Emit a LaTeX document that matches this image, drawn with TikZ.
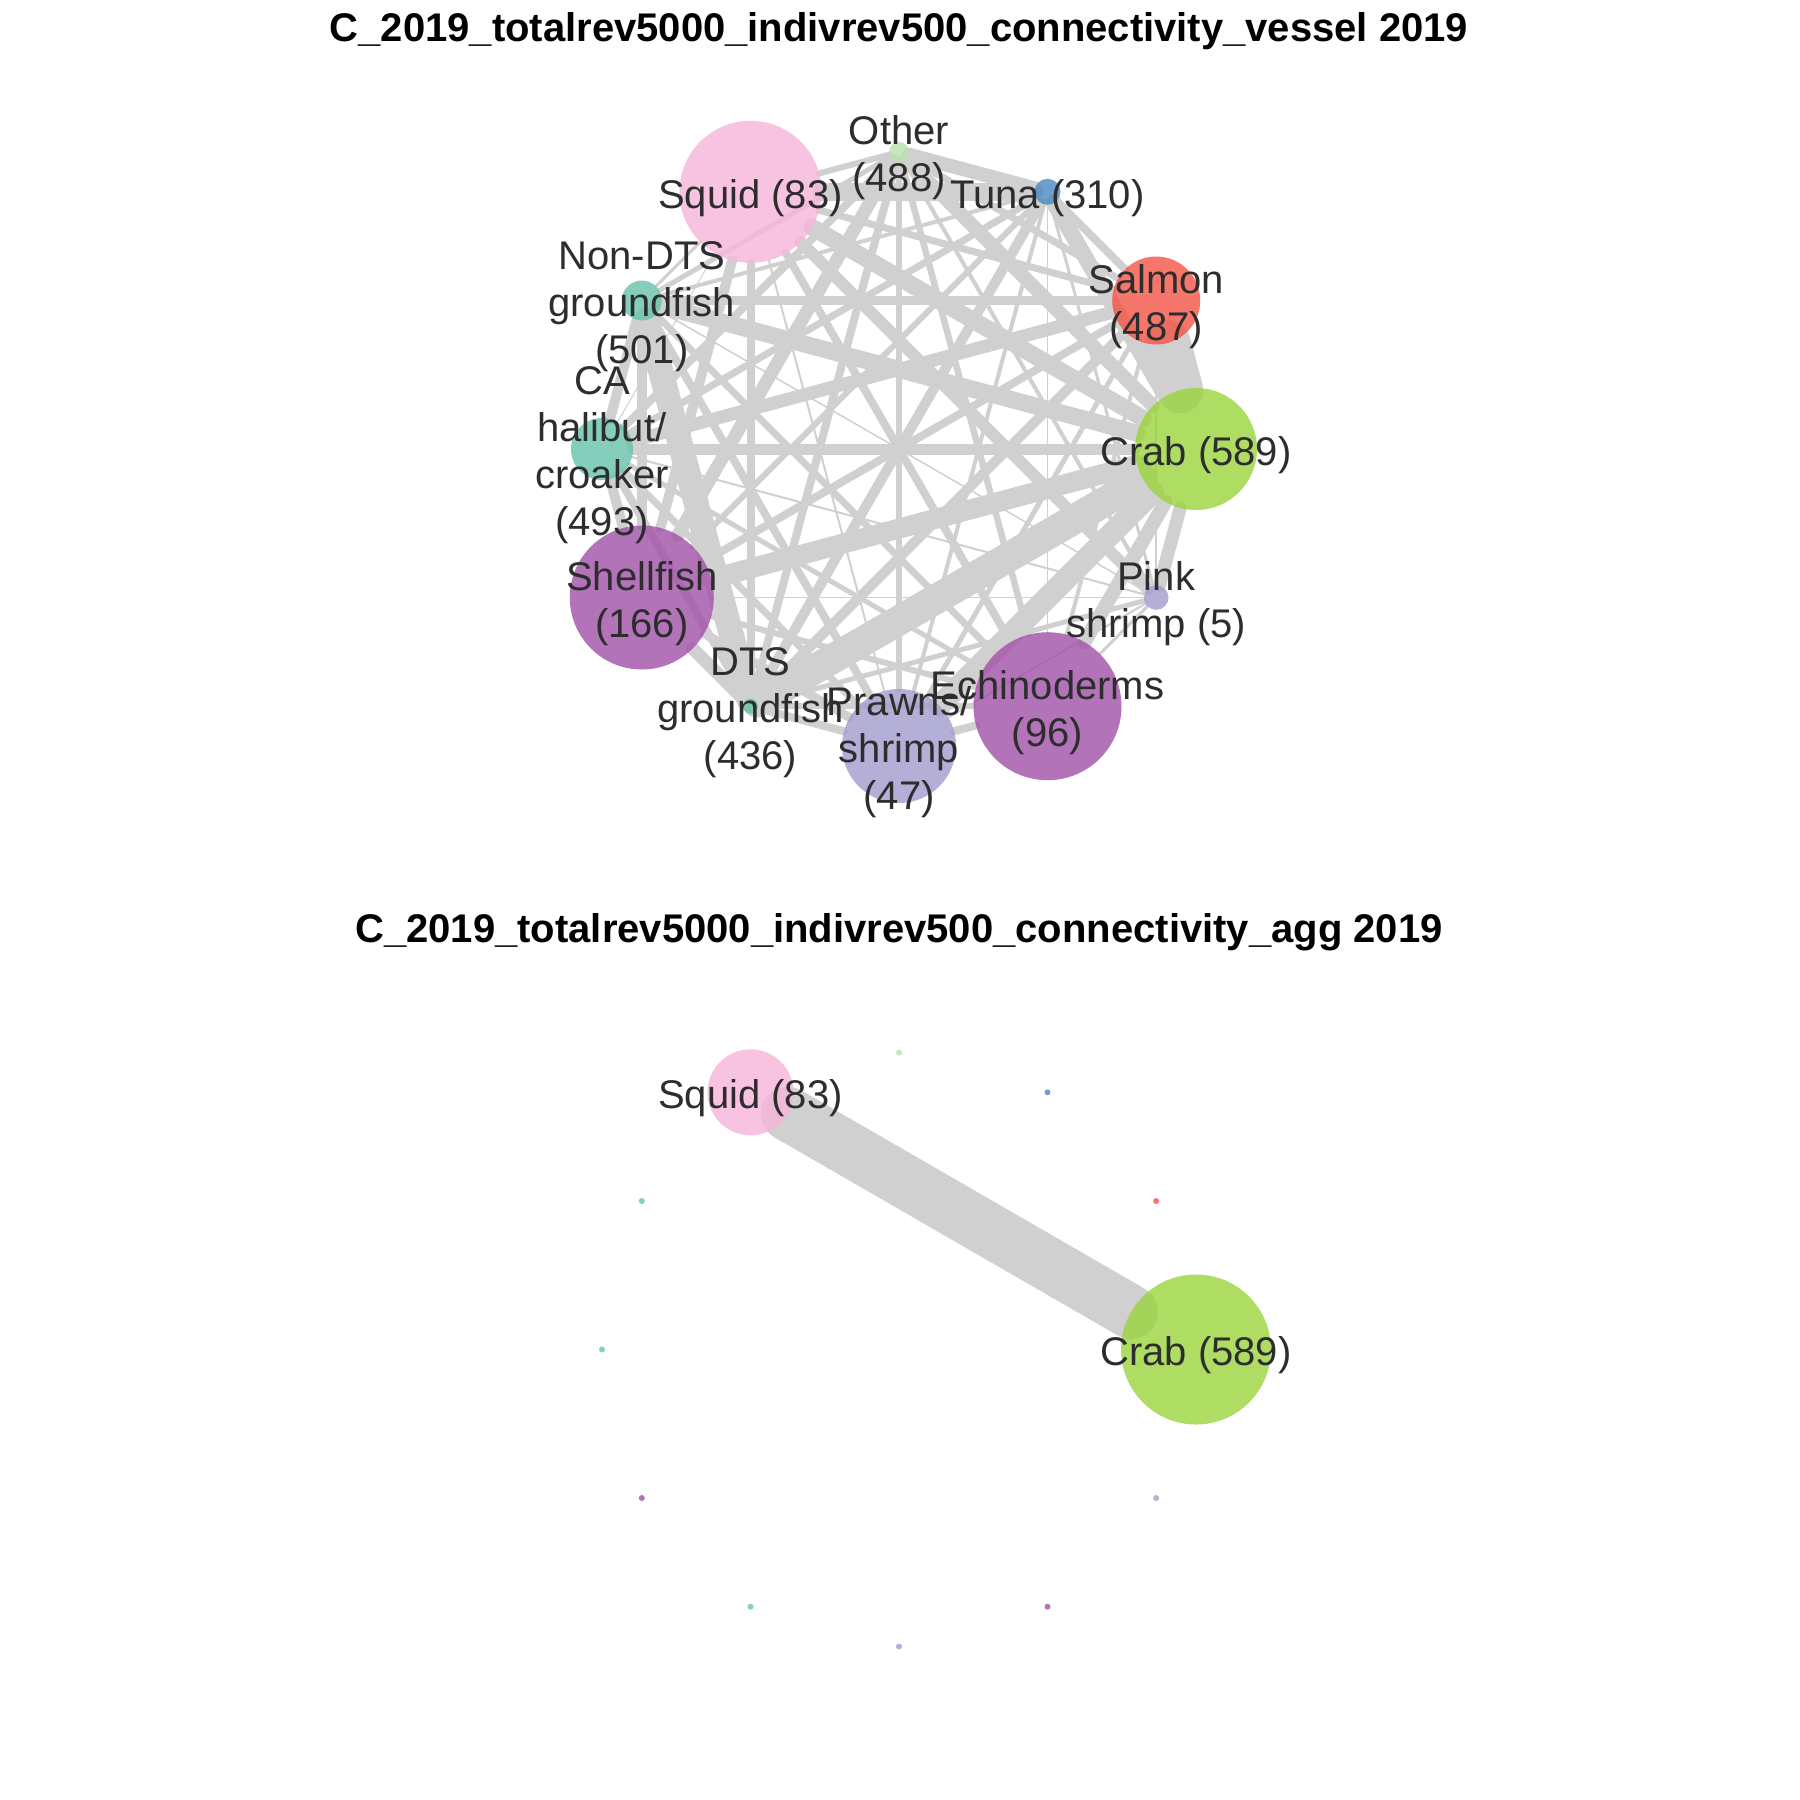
\documentclass[tikz,border=0pt]{standalone}
\usepackage{fontspec}
\setmainfont{Liberation Sans}
\pgfdeclarelayer{bg}
\pgfsetlayers{bg,main}
\definecolor{edgec}{RGB}{208,208,208}
\definecolor{labc}{RGB}{45,45,45}
\definecolor{cSquid}{RGB}{247,181,217}
\definecolor{cCrab}{RGB}{155,212,61}
\definecolor{cSalmon}{RGB}{244,84,71}
\definecolor{cLav}{RGB}{161,156,205}
\definecolor{cPurp}{RGB}{161,80,168}
\definecolor{cTeal}{RGB}{102,194,171}
\definecolor{cTuna}{RGB}{74,136,193}
\definecolor{cOther}{RGB}{186,226,174}
\tikzset{
  vnode/.style={circle, inner sep=0pt, outer sep=0pt, draw=none, fill opacity=0.8},
  lab/.style={align=center, text=labc, inner sep=0pt, yshift=-6pt, font=\fontsize{40}{47}\selectfont},
  ttl/.style={anchor=base, inner sep=0pt, font=\bfseries\fontsize{40}{47}\selectfont},
  edge/.style={draw=edgec, line cap=round},
}
\begin{document}
\begin{tikzpicture}[x=1pt,y=-1pt]
\useasboundingbox (0,0) rectangle (1800,1800);
\begin{pgfonlayer}{bg}
\fill[white] (0,0) rectangle (1800,1800);
\end{pgfonlayer}
% ---------- top network ----------
\def\R{297}
\foreach \n/\ang/\r/\c in {tCrab/0/61/cCrab, tSalmon/30/44/cSalmon, tTuna/60/13/cTuna, tOther/90/10/cOther,
  tSquid/120/71/cSquid, tNon/150/20/cTeal, tCA/180/31/cTeal, tShell/210/72/cPurp, tDTS/240/7.5/cTeal,
  tPrawn/270/57/cLav, tEchi/300/74/cPurp, tPink/330/12.3/cLav}
  \node[vnode, minimum size=2*\r pt, fill=\c] (\n) at ({899+\R*cos(\ang)},{449-\R*sin(\ang)}) {};
\begin{pgfonlayer}{bg}
\foreach \a/\b/\w in {
 tCrab/tSalmon/46, tCrab/tTuna/16, tCrab/tOther/14, tCrab/tSquid/17, tCrab/tNon/17, tCrab/tCA/11,
 tCrab/tShell/20, tCrab/tDTS/30, tCrab/tPrawn/22, tCrab/tEchi/14, tCrab/tPink/13,
 tSalmon/tTuna/8, tSalmon/tOther/7, tSalmon/tSquid/7, tSalmon/tNon/8.5, tSalmon/tCA/13, tSalmon/tShell/8,
 tSalmon/tDTS/10, tSalmon/tPrawn/5, tSalmon/tEchi/4, tSalmon/tPink/1.5,
 tTuna/tOther/14, tTuna/tSquid/18, tTuna/tNon/4, tTuna/tCA/7, tTuna/tShell/6, tTuna/tDTS/10,
 tTuna/tPrawn/4, tTuna/tEchi/1, tTuna/tPink/3,
 tOther/tSquid/6, tOther/tNon/5, tOther/tCA/8, tOther/tShell/13, tOther/tDTS/8, tOther/tPrawn/6.5,
 tOther/tEchi/6.5, tOther/tPink/4,
 tSquid/tNon/3, tSquid/tCA/1, tSquid/tShell/10, tSquid/tDTS/8, tSquid/tPrawn/2, tSquid/tEchi/8, tSquid/tPink/12,
 tNon/tCA/10, tNon/tShell/10, tNon/tDTS/25, tNon/tPrawn/8, tNon/tEchi/7, tNon/tPink/1.5,
 tCA/tShell/10, tCA/tDTS/8, tCA/tPrawn/7, tCA/tEchi/5, tCA/tPink/2,
 tShell/tDTS/13, tShell/tPrawn/9, tShell/tEchi/6, tShell/tPink/1.5,
 tDTS/tPrawn/8, tDTS/tEchi/6, tDTS/tPink/5,
 tPrawn/tEchi/8, tPrawn/tPink/2, tEchi/tPink/3}
  \draw[edge, line width=\w pt] (\a) -- (\b);
\end{pgfonlayer}
\node[lab] (tCrabL) at (tCrab) {Crab (589)};
\node[lab] (tSalmonL) at (tSalmon) {Salmon\\(487)};
\node[lab] (tTunaL) at (tTuna) {Tuna (310)};
\node[lab] (tOtherL) at (tOther) {Other\\(488)};
\node[lab] (tSquidL) at (tSquid) {Squid (83)};
\node[lab] (tNonL) at (tNon) {Non-DTS\\groundfish\\(501)};
\node[lab] (tCAL) at (tCA) {CA\\halibut/\\croaker\\(493)};
\node[lab] (tShellL) at (tShell) {Shellfish\\(166)};
\node[lab] (tDTSL) at (tDTS) {DTS\\groundfish\\(436)};
\node[lab] (tPrawnL) at (tPrawn) {Prawns/\\shrimp\\(47)};
\node[lab] (tEchiL) at (tEchi) {Echinoderms\\(96)};
\node[lab] (tPinkL) at (tPink) {Pink\\shrimp (5)};
\node[ttl] (tTitle) at (899,41) {C\_2019\_totalrev5000\_indivrev500\_connectivity\_vessel 2019};
% ---------- bottom network ----------
\foreach \n/\ang/\r/\c in {bCrab/0/75/cCrab, bSalmon/30/3/cSalmon, bTuna/60/3/cTuna, bOther/90/3/cOther,
  bSquid/120/43/cSquid, bNon/150/3/cTeal, bCA/180/3/cTeal, bShell/210/3/cPurp, bDTS/240/3/cTeal,
  bPrawn/270/3/cLav, bEchi/300/3/cPurp, bPink/330/3/cLav}
  \node[vnode, minimum size=2*\r pt, fill=\c] (\n) at ({899+\R*cos(\ang)},{1349.5-\R*sin(\ang)}) {};
\begin{pgfonlayer}{bg}
\draw[edge, line width=54pt] (bSquid) -- (bCrab);
\end{pgfonlayer}
\node[lab] (bSquidL) at (bSquid) {Squid (83)};
\node[lab] (bCrabL) at (bCrab) {Crab (589)};
\node[ttl] (bTitle) at (899,942) {C\_2019\_totalrev5000\_indivrev500\_connectivity\_agg 2019};
\end{tikzpicture}
\end{document}
